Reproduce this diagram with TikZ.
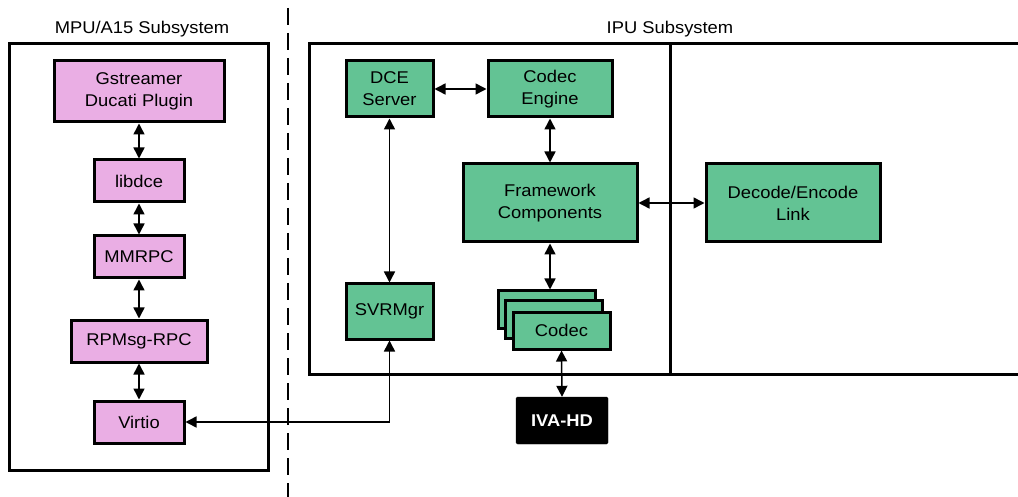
\documentclass[tikz,border=0pt]{standalone}
\usepackage{fontspec}
\setmainfont{Liberation Sans}[FakeStretch=1.08]
\usetikzlibrary{arrows.meta}
\definecolor{pinkc}{RGB}{234,174,228}
\definecolor{greenc}{RGB}{99,195,148}
\tikzset{
  base/.style={draw=black, line width=3pt, align=center, inner sep=0pt,
    font=\fontsize{17}{22}\selectfont},
  pinkbox/.style={base, fill=pinkc},
  greenbox/.style={base, fill=greenc},
  ivabox/.style={fill=black, draw=black, rounded corners=1.5pt, text=white,
    inner sep=0pt, font=\fontsize{17}{22}\selectfont\bfseries},
  container/.style={draw=black, line width=3pt},
  sublabel/.style={font=\fontsize{17}{22}\selectfont, inner sep=0pt},
  link/.style={line width=1.5pt, {Triangle[length=11pt,width=11pt]}-{Triangle[length=11pt,width=11pt]}},
}
\begin{document}
\begin{tikzpicture}[x=1pt,y=-1pt]
\useasboundingbox (0,0) rectangle (1018,497);
\clip (0,0) rectangle (1018,497);
\fill[white] (0,0) rectangle (1018,497);

% containers
\draw[container] (9,44) rectangle (268,470);
\draw[container] (309,44) rectangle (1031,374);
\draw[container] (670,44) -- (670,374);
\node[sublabel] (mpulabel) at (142,29) {MPU/A15 Subsystem};
\node[sublabel] (ipulabel) at (670,29) {IPU Subsystem};

% divider
\draw[line width=2.8pt, dash pattern=on 17pt off 8pt] (288,8) -- (288,497);

% MPU side
\node[pinkbox, minimum width=170pt, minimum height=61pt] (gst) at (139,91.5) {Gstreamer\\Ducati Plugin};
\node[pinkbox, minimum width=90pt, minimum height=42pt] (libdce) at (139,181) {libdce};
\node[pinkbox, minimum width=90pt, minimum height=42pt] (mmrpc) at (139,257) {MMRPC};
\node[pinkbox, minimum width=136pt, minimum height=42pt] (rpmsg) at (139,341) {RPMsg-RPC};
\node[pinkbox, minimum width=90pt, minimum height=42pt] (virtio) at (139,422) {Virtio};

% IPU side
\node[greenbox, minimum width=87pt, minimum height=56pt] (dce) at (389.5,89) {DCE\\Server};
\node[greenbox, minimum width=124pt, minimum height=56pt] (ce) at (550,89) {Codec\\Engine};
\node[greenbox, minimum width=174pt, minimum height=78pt] (fw) at (550,203) {Framework\\Components};
\node[greenbox, minimum width=174pt, minimum height=78pt] (del) at (793,203) {Decode/Encode\\Link};
\node[greenbox, minimum width=87pt, minimum height=55pt] (svr) at (389.5,311.5) {SVRMgr};
\node[greenbox, minimum width=97pt, minimum height=37pt] (codecA) at (546.5,309.5) {};
\node[greenbox, minimum width=97pt, minimum height=37pt] (codecB) at (553.5,319.5) {};
\node[greenbox, minimum width=97pt, minimum height=37pt] (codec) at (561.5,330.5) {Codec};
\node[ivabox, minimum width=92pt, minimum height=47pt] (iva) at (562,420.5) {IVA-HD};

% connectors
\draw[link] (gst.south) -- (libdce.north);
\draw[link] (libdce.south) -- (mmrpc.north);
\draw[link] (mmrpc.south) -- (rpmsg.north);
\draw[link] (rpmsg.south) -- (virtio.north);
\draw[link] (dce.east) -- (ce.west);
\draw[link] (ce.south) -- (fw.north);
\draw[link] (fw.east) -- (del.west);
\draw[link] (dce.south) -- (svr.north);
\draw[link] (fw.south) -- (codecA.north -| fw.south);
\draw[link] (codec.south) -- (iva.north);
\draw[link] (svr.south) |- (virtio.east);
\end{tikzpicture}
\end{document}
